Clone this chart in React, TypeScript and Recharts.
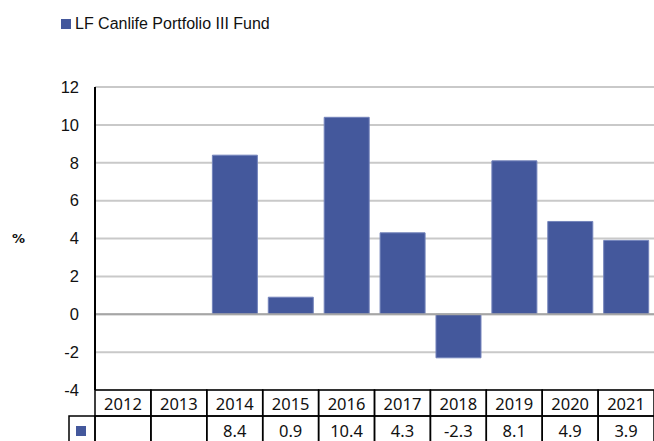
import { BarChart, Bar, XAxis, YAxis, CartesianGrid, ReferenceLine } from 'recharts'

const years = ['2012', '2013', '2014', '2015', '2016', '2017', '2018', '2019', '2020', '2021']
const fundReturns: (number | null)[] = [null, null, 8.4, 0.9, 10.4, 4.3, -2.3, 8.1, 4.9, 3.9]
const yTicks = [-4, -2, 0, 2, 4, 6, 8, 10, 12]
const seriesName = 'LF Canlife Portfolio III Fund'

const CHART_W = 654
const CHART_H = 441
const Y_AXIS_W = 95
const X_AXIS_H = 51
const ROW_H = 26
const CELL_W = (CHART_W - Y_AXIS_W) / years.length
const BAR_COLOR = '#44589c'

const data = years.map((year, i) => ({ year, value: fundReturns[i] }))

function TableTick(props: any) {
  const { x, y, payload, index } = props
  const left = x - CELL_W / 2
  const val = fundReturns[index]
  const font = { fontFamily: '"Noto Sans", sans-serif', fontSize: 16.5, fill: '#111' }
  return (
    <g>
      <rect x={left} y={y} width={CELL_W} height={ROW_H} fill="none" stroke="#000" strokeWidth={1.5} />
      <text x={x} y={y + 20} textAnchor="middle" {...font}>
        {payload.value}
      </text>
      <rect x={left} y={y + ROW_H} width={CELL_W} height={ROW_H} fill="none" stroke="#000" strokeWidth={1.5} />
      <text x={x} y={y + ROW_H + 21} textAnchor="middle" {...font}>
        {val == null ? '' : val.toFixed(1)}
      </text>
      {index === 0 && (
        <g>
          <rect x={left - 26} y={y + ROW_H} width={26} height={ROW_H} fill="none" stroke="#000" strokeWidth={1.5} />
          <rect x={left - 19} y={y + ROW_H + 10} width={10} height={10} fill={BAR_COLOR} />
        </g>
      )}
    </g>
  )
}

export default function App() {
  return (
    <div style={{ position: 'absolute', left: 0, top: 0, width: CHART_W, height: CHART_H, background: '#fff' }}>
      <div
        style={{
          position: 'absolute',
          left: 61,
          top: 15,
          display: 'flex',
          alignItems: 'center',
          fontFamily: '"Liberation Sans", Arial, sans-serif',
          fontSize: 16,
          color: '#111',
          zIndex: 2,
        }}
      >
        <span style={{ display: 'inline-block', width: 10, height: 10, background: BAR_COLOR, marginRight: 4 }} />
        <span>{seriesName}</span>
      </div>
      <BarChart
        width={CHART_W}
        height={CHART_H}
        data={data}
        margin={{ top: 87, right: 0, left: 0, bottom: 0 }}
        barCategoryGap="10%"
      >
        <CartesianGrid vertical={false} stroke="#c9c9c9" strokeWidth={2} />
        <XAxis
          dataKey="year"
          height={X_AXIS_H}
          axisLine={false}
          tickLine={false}
          tickSize={0}
          tickMargin={0}
          interval={0}
          tick={<TableTick />}
        />
        <YAxis
          width={Y_AXIS_W}
          domain={[-4, 12]}
          ticks={yTicks}
          interval={0}
          axisLine={{ stroke: '#000', strokeWidth: 2 }}
          tickLine={false}
          tickSize={6}
          tickMargin={10}
          tick={{ fontFamily: '"Liberation Sans", Arial, sans-serif', fontSize: 16.5, fill: '#111' }}
          label={{
            value: '%',
            position: 'insideLeft',
            offset: 12,
            style: { fontFamily: '"DejaVu Sans", sans-serif', fontSize: 13, fontWeight: 'bold', fill: '#111' },
          }}
        />
        <ReferenceLine y={0} stroke="#a6a6a6" strokeWidth={2} />
        <Bar
          dataKey="value"
          name={seriesName}
          fill={BAR_COLOR}
          stroke="#7383bb"
          strokeWidth={1}
          isAnimationActive={false}
        />
      </BarChart>
    </div>
  )
}
